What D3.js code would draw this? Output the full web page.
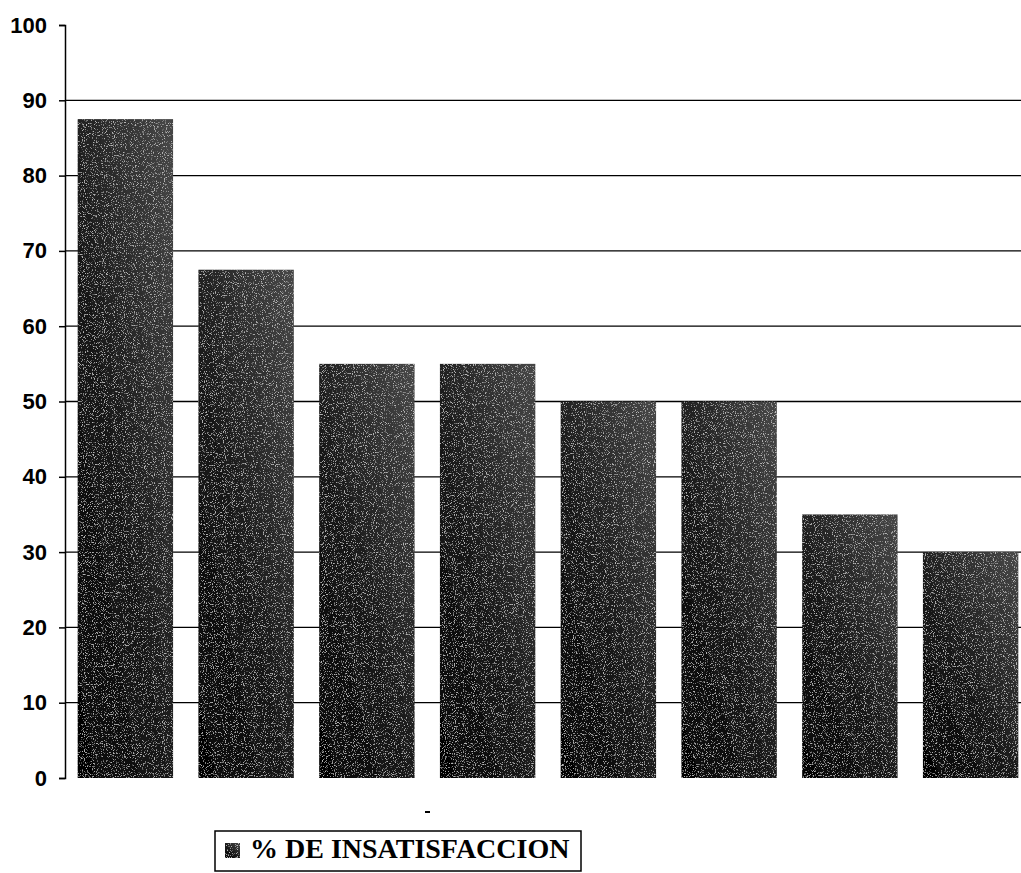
<!DOCTYPE html>
<html>
<head>
<meta charset="utf-8">
<script src="https://cdn.jsdelivr.net/npm/d3@7"></script>
<style>
  html, body { margin: 0; padding: 0; background: #fff; }
  svg { display: block; }
</style>
</head>
<body>
<svg id="chart" width="1021" height="873"></svg>
<script>
// Chart data
const categories = ["1", "2", "3", "4", "5", "6", "7", "8"];
const values = [87.5, 67.5, 55, 55, 50, 50, 35, 30];
const yTicks = [0, 10, 20, 30, 40, 50, 60, 70, 80, 90, 100];
const seriesName = "% DE INSATISFACCION";

const svg = d3.select("#chart");
const plot = { left: 65, right: 1031, top: 25, bottom: 778 };

const x = d3.scaleBand().domain(categories).range([plot.left, plot.right]).paddingInner(0.21).paddingOuter(0.105);
const y = d3.scaleLinear().domain([0, 100]).range([plot.bottom, plot.top]);

// Speckled dark fill for the bars
const defs = svg.append("defs");
const grad = defs.append("linearGradient").attr("id", "barGrad")
  .attr("x1", "0").attr("y1", "1").attr("x2", "0.9").attr("y2", "0");
grad.append("stop").attr("offset", "0").attr("stop-color", "#020202");
grad.append("stop").attr("offset", "0.45").attr("stop-color", "#181818");
grad.append("stop").attr("offset", "1").attr("stop-color", "#444");

const noise = defs.append("filter").attr("id", "speckle")
  .attr("x", "0").attr("y", "0").attr("width", "1").attr("height", "1");
noise.append("feTurbulence").attr("type", "fractalNoise").attr("baseFrequency", "0.9")
  .attr("numOctaves", 2).attr("seed", 3).attr("result", "n");
noise.append("feColorMatrix").attr("in", "n").attr("type", "matrix")
  .attr("values", "0 0 0 0 1  0 0 0 0 1  0 0 0 0 1  0 0 0 6 -3.5").attr("result", "dots");
noise.append("feComposite").attr("in", "dots").attr("in2", "SourceGraphic").attr("operator", "in").attr("result", "clipped");
noise.append("feComponentTransfer").attr("in", "clipped").attr("result", "faded")
  .append("feFuncA").attr("type", "linear").attr("slope", 0.45);
const merge = noise.append("feMerge");
merge.append("feMergeNode").attr("in", "SourceGraphic");
merge.append("feMergeNode").attr("in", "faded");

// Gridlines (10..90)
svg.append("g").selectAll("line")
  .data(yTicks.filter(t => t > 0 && t < 100))
  .join("line")
  .attr("x1", plot.left).attr("x2", 1021)
  .attr("y1", d => y(d)).attr("y2", d => y(d))
  .attr("stroke", "#000").attr("stroke-width", 1.3);

// Bars
svg.append("g").selectAll("rect")
  .data(values)
  .join("rect")
  .attr("x", (d, i) => x(categories[i]))
  .attr("width", x.bandwidth())
  .attr("y", d => y(d))
  .attr("height", d => y(0) - y(d))
  .attr("fill", "url(#barGrad)")
  .attr("filter", "url(#speckle)");

// Y axis
const yAxis = d3.axisLeft(y).tickValues(yTicks).tickSize(6).tickPadding(12).tickFormat(d3.format("d"));
const gy = svg.append("g").attr("transform", `translate(${plot.left},0)`).call(yAxis);
gy.select(".domain").attr("stroke", "#000").attr("stroke-width", 1.5);
gy.selectAll(".tick line").attr("stroke", "#000").attr("stroke-width", 1.5);
gy.selectAll(".tick text")
  .attr("font-family", "'Liberation Sans', Arial, sans-serif")
  .attr("font-weight", "bold").attr("font-size", 22).attr("fill", "#000");

// Small stray mark under the axis
svg.append("line").attr("x1", 425).attr("x2", 430).attr("y1", 812).attr("y2", 812)
  .attr("stroke", "#000").attr("stroke-width", 2);

// Legend
const lg = svg.append("g").attr("transform", "translate(215,831)");
lg.append("rect").attr("width", 366).attr("height", 40)
  .attr("fill", "#fff").attr("stroke", "#000").attr("stroke-width", 1.5);
lg.append("rect").attr("x", 10).attr("y", 12).attr("width", 15).attr("height", 15)
  .attr("fill", "url(#barGrad)").attr("filter", "url(#speckle)");
lg.append("text").attr("x", 35).attr("y", 27)
  .attr("font-family", "'Liberation Serif', 'Times New Roman', serif")
  .attr("font-weight", "bold").attr("font-size", 28).attr("fill", "#000")
  .text(seriesName);
</script>
</body>
</html>
